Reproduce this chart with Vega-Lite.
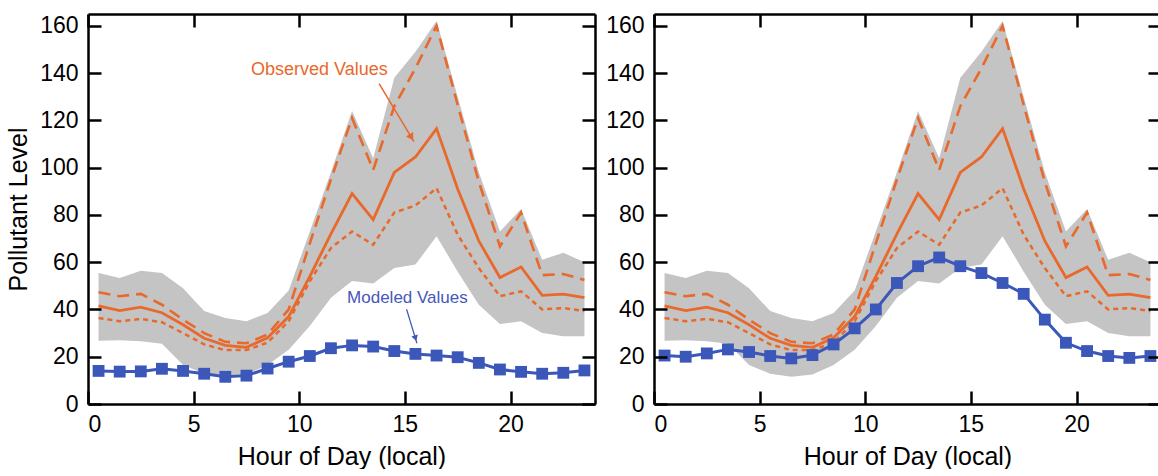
{
  "$schema": "https://vega.github.io/schema/vega-lite/v6.json",
  "padding": {"left": 6, "top": 12, "right": 0, "bottom": 0},
  "spacing": 8,
  "datasets": {
    "obs": [
      {"h": 0.5, "mean": 41.5, "upper": 47.3, "lower": 36.4, "max": 55.4, "min": 26.8},
      {"h": 1.5, "mean": 39.5, "upper": 45.6, "lower": 35, "max": 53.3, "min": 27},
      {"h": 2.5, "mean": 41, "upper": 46.6, "lower": 36, "max": 56.4, "min": 26.6},
      {"h": 3.5, "mean": 38.6, "upper": 42, "lower": 34.6, "max": 55.4, "min": 25.5},
      {"h": 4.5, "mean": 33.5, "upper": 35.7, "lower": 30, "max": 49, "min": 16.5},
      {"h": 5.5, "mean": 27.8, "upper": 30, "lower": 25.2, "max": 39.3, "min": 12.8},
      {"h": 6.5, "mean": 24.8, "upper": 26.3, "lower": 22.8, "max": 36.4, "min": 11.5},
      {"h": 7.5, "mean": 24, "upper": 25.7, "lower": 22.8, "max": 35, "min": 12.5},
      {"h": 8.5, "mean": 28, "upper": 29.4, "lower": 26, "max": 38.5, "min": 16.5},
      {"h": 9.5, "mean": 37, "upper": 40, "lower": 35, "max": 48, "min": 23},
      {"h": 10.5, "mean": 54, "upper": 68, "lower": 52, "max": 73, "min": 33},
      {"h": 11.5, "mean": 72, "upper": 95, "lower": 66, "max": 98, "min": 45},
      {"h": 12.5, "mean": 89, "upper": 121, "lower": 73, "max": 124, "min": 52},
      {"h": 13.5, "mean": 78, "upper": 99, "lower": 67.4, "max": 104, "min": 51},
      {"h": 14.5, "mean": 98, "upper": 126, "lower": 81, "max": 138, "min": 57.5},
      {"h": 15.5, "mean": 104.5, "upper": 142, "lower": 84, "max": 149, "min": 59},
      {"h": 16.5, "mean": 116.5, "upper": 160, "lower": 91.3, "max": 162, "min": 71},
      {"h": 17.5, "mean": 91, "upper": 126.5, "lower": 71.6, "max": 130, "min": 56},
      {"h": 18.5, "mean": 69, "upper": 94, "lower": 57.5, "max": 98, "min": 42},
      {"h": 19.5, "mean": 53.5, "upper": 66.7, "lower": 45.6, "max": 73, "min": 33.8},
      {"h": 20.5, "mean": 58, "upper": 81, "lower": 47.7, "max": 82.5, "min": 35},
      {"h": 21.5, "mean": 46, "upper": 54.5, "lower": 40, "max": 61, "min": 30},
      {"h": 22.5, "mean": 46.5, "upper": 55, "lower": 40.6, "max": 64, "min": 28.7},
      {"h": 23.5, "mean": 45, "upper": 52.5, "lower": 39.3, "max": 60, "min": 28.7}
    ],
    "modelA": [
      {"h": 0.5, "v": 14}, {"h": 1.5, "v": 13.7}, {"h": 2.5, "v": 13.8}, {"h": 3.5, "v": 14.9},
      {"h": 4.5, "v": 14}, {"h": 5.5, "v": 12.8}, {"h": 6.5, "v": 11.5}, {"h": 7.5, "v": 12},
      {"h": 8.5, "v": 15}, {"h": 9.5, "v": 17.9}, {"h": 10.5, "v": 20.3}, {"h": 11.5, "v": 23.6},
      {"h": 12.5, "v": 24.8}, {"h": 13.5, "v": 24.3}, {"h": 14.5, "v": 22.4}, {"h": 15.5, "v": 21.2},
      {"h": 16.5, "v": 20.5}, {"h": 17.5, "v": 19.8}, {"h": 18.5, "v": 17.4}, {"h": 19.5, "v": 14.6},
      {"h": 20.5, "v": 13.6}, {"h": 21.5, "v": 12.8}, {"h": 22.5, "v": 13.2}, {"h": 23.5, "v": 14.2}
    ],
    "modelB": [
      {"h": 0.5, "v": 20.5}, {"h": 1.5, "v": 20}, {"h": 2.5, "v": 21.4}, {"h": 3.5, "v": 23.1},
      {"h": 4.5, "v": 22}, {"h": 5.5, "v": 20.3}, {"h": 6.5, "v": 19.3}, {"h": 7.5, "v": 20.7},
      {"h": 8.5, "v": 25.2}, {"h": 9.5, "v": 32}, {"h": 10.5, "v": 40}, {"h": 11.5, "v": 51.2},
      {"h": 12.5, "v": 58.3}, {"h": 13.5, "v": 62}, {"h": 14.5, "v": 58.3}, {"h": 15.5, "v": 55.4},
      {"h": 16.5, "v": 51.2}, {"h": 17.5, "v": 46.6}, {"h": 18.5, "v": 35.7}, {"h": 19.5, "v": 25.9},
      {"h": 20.5, "v": 22.4}, {"h": 21.5, "v": 20.3}, {"h": 22.5, "v": 19.5}, {"h": 23.5, "v": 20.3}
    ],
    "obsNote": [{"label": "Observed Values", "x": 10.95, "y": 139, "x1": 13.78, "y1": 135.5, "x2": 15.43, "y2": 111, "xa": 15.31, "ya": 112.8}],
    "modNote": [{"label": "Modeled Values", "x": 15.12, "y": 42.8, "x1": 15.08, "y1": 40.1, "x2": 15.57, "y2": 25.7, "xa": 15.5, "ya": 27.8}]
  },
  "hconcat": [
    {
      "width": 507,
      "height": 390,
      "layer": [
        {
          "data": {"name": "obs"},
          "mark": {"type": "area", "color": "#C4C4C4", "opacity": 1},
          "encoding": {
            "x": {"field": "h", "type": "quantitative", "scale": {"domain": [0, 24], "nice": false, "zero": false},
                  "axis": {"orient": "bottom", "values": [0, 5, 10, 15, 20], "ticks": true, "zindex": 1, "tickColor": "#000000", "tickSize": -13, "tickWidth": 2.5, "labelPadding": 22, "title": "Hour of Day (local)"}},
            "y": {"field": "max", "type": "quantitative", "scale": {"domain": [0, 165], "nice": false},
                  "axis": {"orient": "left", "values": [0, 20, 40, 60, 80, 100, 120, 140, 160], "ticks": true, "zindex": 1, "tickColor": "#000000", "tickSize": -13, "tickWidth": 2.5, "labelPadding": 23, "title": "Pollutant Level"}},
            "y2": {"field": "min"}
          }
        },
        {
          "data": {"name": "obs"},
          "mark": {"type": "line", "color": "#E8692B", "strokeWidth": 2.6, "strokeDash": [12, 7]},
          "encoding": {"x": {"field": "h", "type": "quantitative", "axis": null}, "y": {"field": "upper", "type": "quantitative", "axis": null}}
        },
        {
          "data": {"name": "obs"},
          "mark": {"type": "line", "color": "#E8692B", "strokeWidth": 2.8},
          "encoding": {"x": {"field": "h", "type": "quantitative", "axis": null}, "y": {"field": "mean", "type": "quantitative", "axis": null}}
        },
        {
          "data": {"name": "obs"},
          "mark": {"type": "line", "color": "#E8692B", "strokeWidth": 2.5, "strokeDash": [5, 4]},
          "encoding": {"x": {"field": "h", "type": "quantitative", "axis": null}, "y": {"field": "lower", "type": "quantitative", "axis": null}}
        },
        {
          "data": {"name": "modelA"},
          "mark": {"type": "line", "color": "#3A57B9", "strokeWidth": 3, "point": {"shape": "square", "size": 140, "filled": true, "color": "#3A57B9", "opacity": 1}},
          "encoding": {"x": {"field": "h", "type": "quantitative", "axis": null}, "y": {"field": "v", "type": "quantitative", "axis": null}}
        },
        {
          "data": {"name": "obsNote"},
          "mark": {"type": "text", "color": "#E8692B", "font": "Liberation Sans", "fontSize": 18, "align": "center", "baseline": "alphabetic"},
          "encoding": {"x": {"field": "x", "type": "quantitative", "axis": null}, "y": {"field": "y", "type": "quantitative", "axis": null}, "text": {"field": "label"}}
        },
        {
          "data": {"name": "obsNote"},
          "mark": {"type": "rule", "color": "#E8692B", "strokeWidth": 1.5},
          "encoding": {"x": {"field": "x1", "type": "quantitative", "axis": null}, "y": {"field": "y1", "type": "quantitative", "axis": null}, "x2": {"field": "x2"}, "y2": {"field": "y2"}}
        },
        {
          "data": {"name": "obsNote"},
          "mark": {"type": "point", "shape": "triangle-up", "filled": true, "color": "#E8692B", "opacity": 1, "size": 70, "angle": 149},
          "encoding": {"x": {"field": "xa", "type": "quantitative", "axis": null}, "y": {"field": "ya", "type": "quantitative", "axis": null}}
        },
        {
          "data": {"name": "modNote"},
          "mark": {"type": "text", "color": "#4558B8", "font": "Liberation Sans", "fontSize": 17, "align": "center", "baseline": "alphabetic"},
          "encoding": {"x": {"field": "x", "type": "quantitative", "axis": null}, "y": {"field": "y", "type": "quantitative", "axis": null}, "text": {"field": "label"}}
        },
        {
          "data": {"name": "modNote"},
          "mark": {"type": "rule", "color": "#3A57B9", "strokeWidth": 1.2},
          "encoding": {"x": {"field": "x1", "type": "quantitative", "axis": null}, "y": {"field": "y1", "type": "quantitative", "axis": null}, "x2": {"field": "x2"}, "y2": {"field": "y2"}}
        },
        {
          "data": {"name": "modNote"},
          "mark": {"type": "point", "shape": "triangle-up", "filled": true, "color": "#3A57B9", "opacity": 1, "size": 45, "angle": 163},
          "encoding": {"x": {"field": "xa", "type": "quantitative", "axis": null}, "y": {"field": "ya", "type": "quantitative", "axis": null}}
        },
        {
          "data": {"name": "obs"},
          "mark": {"type": "point", "opacity": 0},
          "encoding": {
            "x": {"field": "h", "type": "quantitative", "axis": {"orient": "top", "values": [0, 5, 10, 15, 20], "ticks": true, "zindex": 1, "tickColor": "#000000", "tickSize": -13, "tickWidth": 2.5, "labels": false, "title": null}},
            "y": {"field": "mean", "type": "quantitative", "axis": {"orient": "right", "values": [0, 20, 40, 60, 80, 100, 120, 140, 160], "ticks": true, "zindex": 1, "tickColor": "#000000", "tickSize": -13, "tickWidth": 2.5, "labels": false, "title": null}}
          }
        }
      ],
      "resolve": {"axis": {"x": "independent", "y": "independent"}}
    },
    {
      "width": 507,
      "height": 390,
      "layer": [
        {
          "data": {"name": "obs"},
          "mark": {"type": "area", "color": "#C4C4C4", "opacity": 1},
          "encoding": {
            "x": {"field": "h", "type": "quantitative", "scale": {"domain": [0, 24], "nice": false, "zero": false},
                  "axis": {"orient": "bottom", "values": [0, 5, 10, 15, 20], "ticks": true, "zindex": 1, "tickColor": "#000000", "tickSize": -13, "tickWidth": 2.5, "labelPadding": 22, "title": "Hour of Day (local)"}},
            "y": {"field": "max", "type": "quantitative", "scale": {"domain": [0, 165], "nice": false},
                  "axis": {"orient": "left", "values": [0, 20, 40, 60, 80, 100, 120, 140, 160], "ticks": true, "zindex": 1, "tickColor": "#000000", "tickSize": -13, "tickWidth": 2.5, "labelPadding": 23, "title": null}},
            "y2": {"field": "min"}
          }
        },
        {
          "data": {"name": "obs"},
          "mark": {"type": "line", "color": "#E8692B", "strokeWidth": 2.6, "strokeDash": [12, 7]},
          "encoding": {"x": {"field": "h", "type": "quantitative", "axis": null}, "y": {"field": "upper", "type": "quantitative", "axis": null}}
        },
        {
          "data": {"name": "obs"},
          "mark": {"type": "line", "color": "#E8692B", "strokeWidth": 2.8},
          "encoding": {"x": {"field": "h", "type": "quantitative", "axis": null}, "y": {"field": "mean", "type": "quantitative", "axis": null}}
        },
        {
          "data": {"name": "obs"},
          "mark": {"type": "line", "color": "#E8692B", "strokeWidth": 2.5, "strokeDash": [5, 4]},
          "encoding": {"x": {"field": "h", "type": "quantitative", "axis": null}, "y": {"field": "lower", "type": "quantitative", "axis": null}}
        },
        {
          "data": {"name": "modelB"},
          "mark": {"type": "line", "color": "#3A57B9", "strokeWidth": 3, "point": {"shape": "square", "size": 140, "filled": true, "color": "#3A57B9", "opacity": 1}},
          "encoding": {"x": {"field": "h", "type": "quantitative", "axis": null}, "y": {"field": "v", "type": "quantitative", "axis": null}}
        },
        {
          "data": {"name": "obs"},
          "mark": {"type": "point", "opacity": 0},
          "encoding": {
            "x": {"field": "h", "type": "quantitative", "axis": {"orient": "top", "values": [0, 5, 10, 15, 20], "ticks": true, "zindex": 1, "tickColor": "#000000", "tickSize": -13, "tickWidth": 2.5, "labels": false, "title": null}},
            "y": {"field": "mean", "type": "quantitative", "axis": {"orient": "right", "values": [0, 20, 40, 60, 80, 100, 120, 140, 160], "ticks": true, "zindex": 1, "tickColor": "#000000", "tickSize": -13, "tickWidth": 2.5, "labels": false, "title": null}}
          }
        }
      ],
      "resolve": {"axis": {"x": "independent", "y": "independent"}}
    }
  ],
  "config": {
    "view": {"stroke": null},
    "axis": {
      "grid": false,
      "domainColor": "#000000",
      "domainWidth": 2.5,
      "labelFont": "Liberation Sans",
      "labelFontSize": 23,
      "labelColor": "#000000",
      "titleFont": "Liberation Sans",
      "titleFontSize": 25,
      "titleFontWeight": "normal",
      "titleColor": "#000000",
      "titlePadding": 8
    }
  }
}
